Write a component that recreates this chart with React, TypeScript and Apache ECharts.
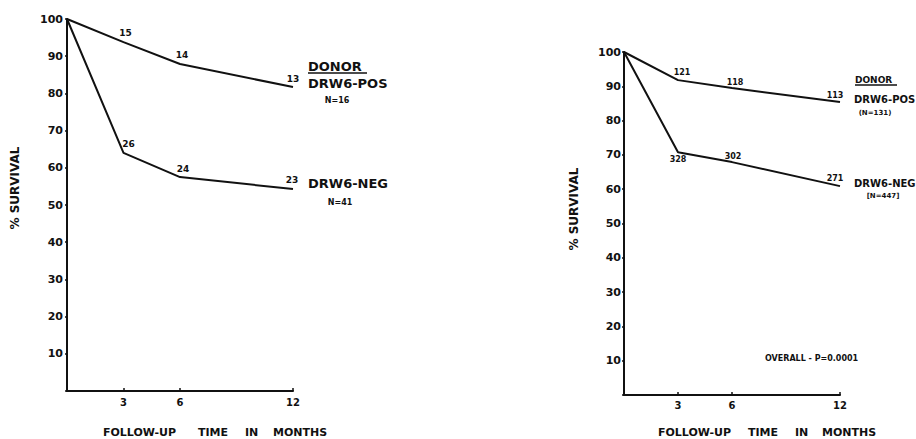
import React, { useEffect, useRef } from "react";
import * as echarts from "echarts";

const months = [0, 3, 6, 12];
const xTickValues = [3, 6, 12];

const leftPos = [100, 93.8, 87.9, 81.7];
const leftNeg = [100, 64, 57.5, 54.3];
const leftPosAtRisk = ["", "15", "14", "13"];
const leftNegAtRisk = ["", "26", "24", "23"];

const rightPos = [100, 91.8, 89.5, 85.4];
const rightNeg = [100, 70.8, 67.9, 60.9];
const rightPosAtRisk = ["", "121", "118", "113"];
const rightNegAtRisk = ["", "328", "302", "271"];

const FONT = '"DejaVu Sans", "Liberation Sans", sans-serif';

function mkSeries(
  idx: number,
  values: number[],
  counts: string[],
  offsets: number[][],
  fontSize: number
) {
  return {
    type: "line",
    xAxisIndex: idx,
    yAxisIndex: idx,
    symbol: "circle",
    symbolSize: 0.01,
    showSymbol: true,
    itemStyle: { color: "#111" },
    lineStyle: { color: "#111", width: 2 },
    data: months.map((m, i) => ({
      value: [m, values[i]],
      label: {
        show: counts[i] !== "",
        position: "inside",
        formatter: counts[i],
        offset: offsets[i],
        color: "#111",
        fontFamily: FONT,
        fontWeight: "bold",
        fontSize,
      },
    })),
  };
}

function txt(text: string, x: number, y: number, size: number, align = "left", extra: any = {}) {
  return {
    type: "text",
    x,
    y,
    ...extra,
    style: {
      text,
      font: `bold ${size}px ${FONT}`,
      fill: "#111",
      textAlign: align,
      textVerticalAlign: "middle",
    },
  };
}

function line(x1: number, y1: number, x2: number, y2: number) {
  return {
    type: "line",
    shape: { x1, y1, x2, y2 },
    style: { stroke: "#111", lineWidth: 1.5 },
  };
}

export default function App() {
  const ref = useRef<HTMLDivElement>(null);
  useEffect(() => {
    if (!ref.current) return;
    const chart = echarts.init(ref.current, undefined, { renderer: "svg" });
    const xAxisBase = (margin: number) => ({
      type: "value",
      min: 0,
      max: 12,
      axisLine: { show: true, onZero: false, lineStyle: { color: "#111", width: 2 } },
      axisTick: { show: true, customValues: xTickValues, length: 3, inside: true, lineStyle: { color: "#111", width: 1.5 } },
      axisLabel: {
        customValues: xTickValues,
        margin,
        color: "#111",
        fontFamily: FONT,
        fontWeight: "bold",
        fontSize: 10,
      },
      splitLine: { show: false },
    });
    const yAxisBase = (margin: number) => ({
      type: "value",
      min: 0,
      max: 100,
      interval: 10,
      axisLine: { show: true, lineStyle: { color: "#111", width: 2 } },
      axisTick: { show: true, length: 2, lineStyle: { color: "#111", width: 1.5 } },
      axisLabel: {
        margin,
        color: "#111",
        fontFamily: FONT,
        fontWeight: "bold",
        fontSize: 11,
        formatter: (v: number) => (v === 0 ? "" : String(v)),
      },
      splitLine: { show: false },
    });
    chart.setOption({
      animation: false,
      backgroundColor: "#fff",
      grid: [
        { left: 67, top: 19, width: 226, height: 372 },
        { left: 624, top: 52, width: 216, height: 343 },
      ],
      xAxis: [
        { ...xAxisBase(6), gridIndex: 0 },
        { ...xAxisBase(5), gridIndex: 1 },
      ],
      yAxis: [
        { ...yAxisBase(4), gridIndex: 0 },
        { ...yAxisBase(3), gridIndex: 1 },
      ],
      series: [
        mkSeries(0, leftPos, leftPosAtRisk, [[0, 0], [2, -9], [2, -9], [0, -8]], 9),
        mkSeries(0, leftNeg, leftNegAtRisk, [[0, 0], [5, -9], [3, -8], [-1, -9]], 9),
        mkSeries(1, rightPos, rightPosAtRisk, [[0, 0], [4, -8], [3, -6], [-5, -7]], 8),
        mkSeries(1, rightNeg, rightNegAtRisk, [[0, 0], [0, 7], [1, -6], [-5, -8]], 8),
      ],
      graphic: [
        // left legend
        txt("DONOR", 308, 66, 13),
        line(308, 73, 367, 73),
        txt("DRW6-POS", 308, 83, 13),
        txt("N=16", 337, 100, 8, "center"),
        txt("DRW6-NEG", 308, 183, 13),
        txt("N=41", 340, 202, 8, "center"),
        // right legend
        txt("DONOR", 855, 80, 9),
        line(855, 85, 897, 85),
        txt("DRW6-POS", 854, 99, 10),
        txt("(N=131)", 875, 113, 7, "center"),
        txt("DRW6-NEG", 854, 183, 10),
        txt("[N=447]", 883, 196, 7, "center"),
        txt("OVERALL - P=0.0001", 765, 358, 8),
        // y titles
        txt("% SURVIVAL", 15, 188, 12, "center", { rotation: Math.PI / 2 }),
        txt("% SURVIVAL", 574, 209, 12, "center", { rotation: Math.PI / 2 }),
        // x titles
        txt("FOLLOW-UP", 103, 432, 11),
        txt("TIME", 198, 432, 11),
        txt("IN", 245, 432, 11),
        txt("MONTHS", 273, 432, 11),
        txt("FOLLOW-UP", 658, 432, 11),
        txt("TIME", 748, 432, 11),
        txt("IN", 795, 432, 11),
        txt("MONTHS", 822, 432, 11),
      ],
    });
    return () => chart.dispose();
  }, []);
  return (
    <div
      ref={ref}
      style={{ position: "absolute", left: 0, top: 0, width: 916, height: 439 }}
    />
  );
}
